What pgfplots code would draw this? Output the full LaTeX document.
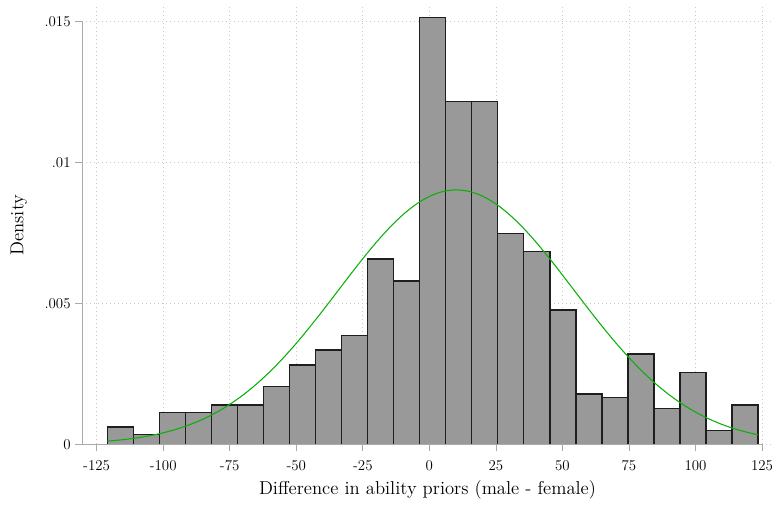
\documentclass[border=0pt]{standalone}
\usepackage{pgfplots}
\pgfplotsset{compat=1.18}
\usetikzlibrary{calc}
\definecolor{barfill}{RGB}{153,153,153}
\definecolor{baredge}{RGB}{30,30,30}
\definecolor{fitgreen}{RGB}{10,176,10}
\definecolor{axgray}{RGB}{170,170,170}
\definecolor{gridgray}{RGB}{200,200,200}
\begin{document}
\begin{tikzpicture}
\begin{axis}[
  scale only axis,
  width=518.25pt, height=328.7pt,
  xmin=-130.5, xmax=129.1, ymin=0, ymax=0.01554,
  axis line style={draw=none},
  xtick={-125,-100,-75,-50,-25,0,25,50,75,100,125},
  xticklabels={-125,-100,-75,-50,-25,0,25,50,75,100,125},
  ytick={0,0.005,0.01,0.015},
  yticklabels={0,.005,.01,.015},
  scaled y ticks=false,
  tick align=outside,
  xtick pos=bottom, ytick pos=left,
  major tick length=5pt,
  tick style={axgray, line width=0.6pt},
  grid=major,
  major grid style={gridgray, line width=0.6pt, dash pattern=on 0.6pt off 2.4pt},
  tick label style={font=\fontsize{11.2}{13}\selectfont},
  xticklabel style={yshift=-3.5pt},
  label style={font=\fontsize{14}{16}\selectfont},
  xlabel={Difference in ability priors (male - female)},
  ylabel={Density},
  xlabel style={at={(axis description cs:0.5,0)}, anchor=base, yshift=-38pt},
  ylabel style={at={(axis description cs:0,0.5)}, anchor=center, yshift=47.25pt},
  clip=false,
]
\addplot[ybar interval, fill=barfill, draw=baredge, line width=1pt] coordinates {
(-121.00,0.000613) (-111.22,0.000355) (-101.44,0.00112) (-91.66,0.00112)
(-81.88,0.00139) (-72.10,0.00139) (-62.32,0.00204) (-52.54,0.00281)
(-42.76,0.00334) (-32.98,0.00385) (-23.20,0.00657) (-13.42,0.00579)
(-3.64,0.01514) (6.14,0.01215) (15.92,0.01215) (25.70,0.00748)
(35.48,0.00683) (45.26,0.00476) (55.04,0.00178) (64.82,0.00165)
(74.60,0.0032) (84.38,0.00126) (94.16,0.00255) (103.94,0.00048)
(113.72,0.00139) (123.50,0.00139)
};
\addplot[fitgreen, line width=0.8pt, smooth, no markers] coordinates {
(-121,0.000111) (-115,0.000164) (-110,0.000225) (-105,0.000304) (-100,0.000405)
(-95,0.000534) (-90,0.000695) (-85,0.000891) (-80,0.001129) (-75,0.001414)
(-70,0.001746) (-65,0.002130) (-60,0.002565) (-55,0.003049) (-50,0.003579)
(-45,0.004148) (-40,0.004745) (-35,0.005360) (-30,0.005978) (-25,0.006581)
(-20,0.007154) (-15,0.007677) (-10,0.008134) (-5,0.008509) (0,0.008787)
(5,0.008960) (10,0.009020) (15,0.008965) (20,0.008796) (25,0.008522)
(30,0.008150) (35,0.007697) (40,0.007175) (45,0.006605) (50,0.006002)
(55,0.005384) (60,0.004769) (65,0.004171) (70,0.003601) (75,0.003070)
(80,0.002583) (85,0.002146) (90,0.001761) (95,0.001426) (100,0.001140)
(105,0.000900) (110,0.000701) (115,0.000539) (120,0.000410) (123.5,0.000336)
};
\draw[axgray, line width=0.6pt] (axis cs:-130.5,0) -- (axis cs:125,0);
\draw[axgray, line width=0.6pt] (axis cs:-130.5,0) -- (axis cs:-130.5,0.015);
\coordinate (ll) at (rel axis cs:0,0);
\coordinate (ur) at (rel axis cs:1,1);
\end{axis}
\pgfresetboundingbox
\path (ll) ++(-61.5pt,-46.3pt) rectangle ($(ur)+(1.5pt,4.5pt)$);
\end{tikzpicture}
\end{document}
